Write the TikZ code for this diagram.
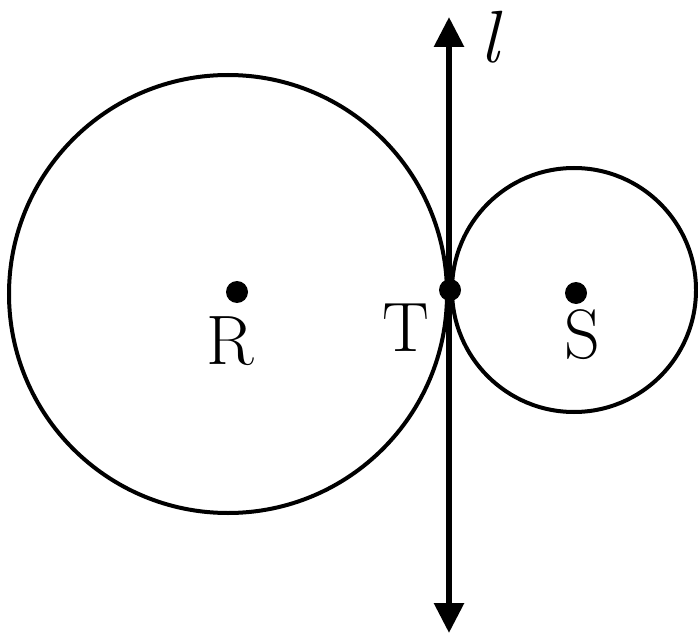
\documentclass[tikz,border=0pt]{standalone}
\usetikzlibrary{arrows.meta}
\begin{document}
\begin{tikzpicture}[x=1pt,y=-1pt,
  circ/.style={line width=4pt},
  dotmark/.style={circle,fill=black,inner sep=0pt,minimum size=#1},
  lbl/.style={inner sep=0pt,font=\rmfamily\fontsize{70}{70}\selectfont}]
\useasboundingbox (0,0) rectangle (698,636);
\coordinate (Rc) at (228,294);
\coordinate (Sc) at (574,290);
\draw[circ] (Rc) circle[radius=219];
\draw[circ] (Sc) circle[radius=122];
\coordinate (top) at (449,17);
\coordinate (bot) at (449,633);
\draw[line width=6pt,{Triangle[length=30pt,width=29pt]}-{Triangle[length=30pt,width=29pt]}] (top) -- (bot);
\node[dotmark=22pt] (T) at (450,290) {};
\node[dotmark=22pt] (R) at (237,292) {};
\node[dotmark=22pt] (S) at (576,293) {};
\node[lbl] (Rl) at (230,341) {R};
\node[lbl] (Tl) at (406,328) {T};
\node[lbl] (Sl) at (582,335) {S};
\node[lbl,font=\rmfamily\itshape\fontsize{74}{74}\selectfont] (ll) at (490,37) {l};
\end{tikzpicture}
\end{document}
